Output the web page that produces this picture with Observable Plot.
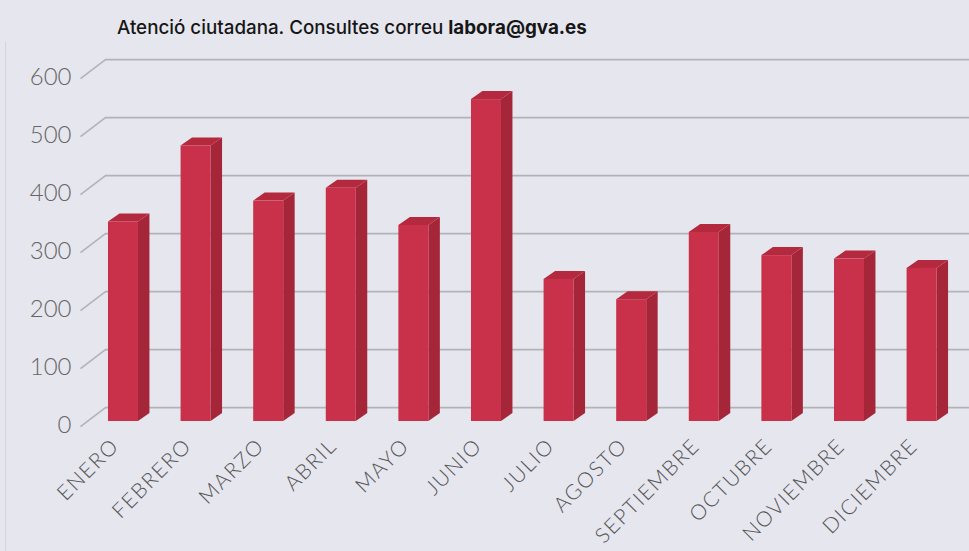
<!DOCTYPE html>
<html><head><meta charset="utf-8">
<script src="https://cdn.jsdelivr.net/npm/d3@7"></script>
<script src="https://cdn.jsdelivr.net/npm/@observablehq/plot@0.6"></script>
<style>
body{margin:0;background:#e6e6ee;width:969px;height:551px;overflow:hidden;position:relative;font-family:Inter,"Noto Sans",sans-serif;}
#title{position:absolute;left:117px;top:16px;font-size:18.8px;font-weight:500;color:#161616;white-space:nowrap;}
#title b{font-weight:700;}
#frame{position:absolute;left:5px;top:42px;width:0;height:509px;border-left:1px solid #d4d4dc;}
#chart{position:absolute;left:0;top:0;}
.xlab text{letter-spacing:1.5px;}
</style></head><body>
<div id="frame"></div>
<div id="chart"></div>
<div id="title">Atenció ciutadana. Consultes correu <b>labora@gva.es</b></div>
<script>
const months = ["ENERO","FEBRERO","MARZO","ABRIL","MAYO","JUNIO","JULIO","AGOSTO","SEPTIEMBRE","OCTUBRE","NOVIEMBRE","DICIEMBRE"];
const values = [344, 475, 380, 402, 338, 555, 245, 210, 326, 286, 280, 264];
const yTicks = [0, 100, 200, 300, 400, 500, 600];

// geometry (in scale units)
const HW = 0.2066;   // half width of the bar's front face
const DX = 0.158;    // depth, horizontal
const DY = 13.8;     // depth, vertical
const BACK = 24;     // back wall offset
const FRONT = -8.8;  // front edge offset
const XL = -0.592, XB = -0.248, XR = 11.653;

const bars = values.map((v, i) => ({i, v, m: months[i]}));
const sideFaces = bars.flatMap(d => [
  {z: d.i, x: d.i + HW, y1: 0, y2: d.v},
  {z: d.i, x: d.i + HW + DX, y1: DY, y2: d.v + DY}
]);
const topFaces = bars.flatMap(d => [
  {z: d.i, x: d.i - HW, y1: d.v, y2: d.v},
  {z: d.i, x: d.i - HW + DX, y1: d.v, y2: d.v + DY},
  {z: d.i, x: d.i + HW, y1: d.v, y2: d.v + DY},
  {z: d.i, x: d.i + HW + DX, y1: d.v + DY, y2: d.v + DY}
]);

const chart = Plot.plot({
  width: 969, height: 551,
  marginLeft: 80, marginRight: 0, marginTop: 73, marginBottom: 130,
  x: {domain: [XL, XR], axis: null},
  y: {domain: [0, 600], axis: null},
  style: {background: "transparent", overflow: "visible"},
  marks: [
    Plot.ruleY(yTicks, {y: d => d + BACK, x1: XB, x2: XR, stroke: "#b2b2b8", strokeWidth: 1.6}),
    Plot.link(yTicks, {x1: XL, y1: d => d + FRONT, x2: XB, y2: d => d + BACK, stroke: "#b2b2b8", strokeWidth: 1.6}),
    Plot.text(yTicks, {x: XL, y: d => d, text: d => String(d), dx: -9, dy: 3.5, textAnchor: "end",
      fontSize: 24, fontWeight: 300, fill: "#666", fontFamily: "Lato"}),
    Plot.areaY(sideFaces, {x: "x", y1: "y1", y2: "y2", z: "z", fill: "#a52639", curve: "linear"}),
    Plot.areaY(topFaces, {x: "x", y1: "y1", y2: "y2", z: "z", fill: "#b5293f", curve: "linear"}),
    Plot.rectY(bars, {x1: d => d.i - HW, x2: d => d.i + HW, y1: 0, y2: "v", fill: "#c93049"}),
    Plot.text(bars, {x: "i", y: 0, text: "m", rotate: -45, textAnchor: "end", lineAnchor: "middle",
      dx: -8, dy: 21, fontSize: 21, fontWeight: 300, fill: "#555", fontFamily: "Lato", className: "xlab"})
  ]
});
document.getElementById("chart").appendChild(chart);
</script>
</body></html>
